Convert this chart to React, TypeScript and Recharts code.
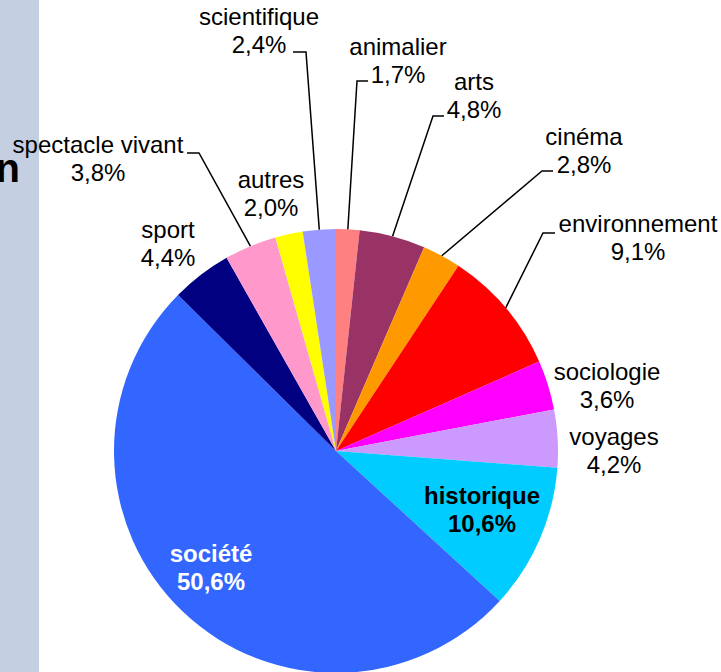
import React from "react";
import { PieChart, Pie, Cell } from "recharts";

const categories = [
  "animalier",
  "arts",
  "cinéma",
  "environnement",
  "sociologie",
  "voyages",
  "historique",
  "société",
  "sport",
  "spectacle vivant",
  "autres",
  "scientifique",
];
const values = [1.7, 4.8, 2.8, 9.1, 3.6, 4.2, 10.6, 50.6, 4.4, 3.8, 2.0, 2.4];
const colors = [
  "#FF8080",
  "#993366",
  "#FF9900",
  "#FF0000",
  "#FF00FF",
  "#CC99FF",
  "#00CCFF",
  "#3366FF",
  "#000080",
  "#FF99CC",
  "#FFFF00",
  "#9999FF",
];

const data = categories.map((name, i) => ({ name, value: values[i] }));

// label layout relative to pie centre: text centre x / first baseline y, optional elbow of leader
type Layout = { tx: number; ty: number; ex?: number; ey?: number; hook?: number; bold?: boolean; fill?: string };
const LABEL_LAYOUT: Record<string, Layout> = {
  scientifique: { tx: -77, ty: -426, ex: -30, ey: -399, hook: -13 },
  animalier: { tx: 62, ty: -396, ex: 21, ey: -370, hook: 11 },
  arts: { tx: 138, ty: -361, ex: 97, ey: -335, hook: 11 },
  "cinéma": { tx: 248, ty: -306, ex: 206, ey: -280, hook: 11 },
  environnement: { tx: 302, ty: -219, ex: 207, ey: -218, hook: 12 },
  "spectacle vivant": { tx: -238, ty: -298, ex: -137, ey: -298, hook: -12 },
  sociologie: { tx: 271, ty: -71 },
  voyages: { tx: 278, ty: -6 },
  historique: { tx: 146, ty: 53, bold: true },
  "société": { tx: -125, ty: 111, bold: true, fill: "#FFFFFF" },
  sport: { tx: -168, ty: -213 },
  autres: { tx: -65, ty: -263 },
};

const FONT = "'Liberation Sans', Arial, sans-serif";
const FS = 24;
const LH = 27.5;
const RAD = Math.PI / 180;

const fmt = (v: number) => v.toFixed(1).replace(".", ",") + "%";

const renderLabel = (props: any) => {
  const { cx, cy, midAngle, outerRadius, name, value } = props;
  const L = LABEL_LAYOUT[name];
  if (!L) return null;
  const px = cx + outerRadius * Math.cos(-midAngle * RAD);
  const py = cy + outerRadius * Math.sin(-midAngle * RAD);
  const tx = cx + L.tx;
  const ty = cy + L.ty;
  return (
    <g>
      {L.ex !== undefined && (
        <polyline
          points={`${px},${py} ${cx + L.ex},${cy + (L.ey as number)} ${cx + L.ex + (L.hook as number)},${cy + (L.ey as number)}`}
          fill="none"
          stroke="#000"
          strokeWidth={1.5}
        />
      )}
      <text
        x={tx}
        y={ty}
        textAnchor="middle"
        fontFamily={FONT}
        fontSize={FS}
        fontWeight={L.bold ? "bold" : "normal"}
        fill={L.fill || "#000"}
      >
        <tspan x={tx} y={ty}>{name}</tspan>
        <tspan x={tx} y={ty + LH}>{fmt(value)}</tspan>
      </text>
    </g>
  );
};

export default function App() {
  return (
    <div style={{ position: "absolute", left: 0, top: 0, width: 721, height: 672, background: "#fff" }}>
      <svg width={721} height={672} style={{ position: "absolute", left: 0, top: 0 }}>
        <rect x={0} y={0} width={39} height={672} fill="#C5CFE2" />
        <text x={20} y={182} textAnchor="end" fontFamily={FONT} fontWeight="bold" fontSize={40} fill="#000">
          n
        </text>
      </svg>
      <div style={{ position: "absolute", left: 0, top: 0 }}>
        <PieChart width={721} height={672} margin={{ top: 0, right: 0, bottom: 0, left: 0 }}>
          <Pie
            data={data}
            dataKey="value"
            nameKey="name"
            cx={336}
            cy={451}
            outerRadius={222}
            startAngle={90}
            endAngle={-270}
            stroke="none"
            label={renderLabel}
            labelLine={false}
            isAnimationActive={false}
          >
            {data.map((d, i) => (
              <Cell key={d.name} fill={colors[i]} />
            ))}
          </Pie>
        </PieChart>
      </div>
    </div>
  );
}
